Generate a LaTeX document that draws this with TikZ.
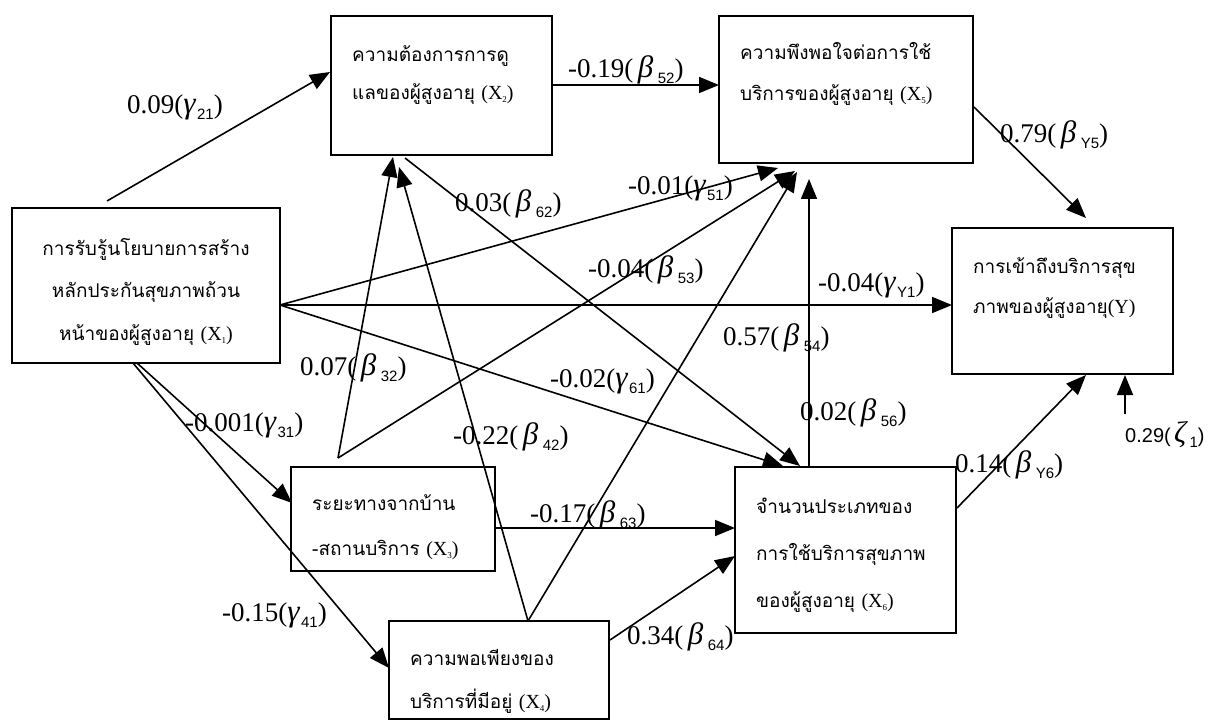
\documentclass[tikz,border=0pt]{standalone}
\usepackage{fontspec}
\setmainfont{Liberation Serif}
\newfontfamily\thaifont[Script=Thai]{Loma}
\newfontfamily\arialf{Liberation Sans}
\usetikzlibrary{arrows.meta}

\newcommand{\sbs}[1]{\raisebox{-6pt}{\arialf\fontsize{15}{15}\selectfont #1}}
\newcommand{\grk}[1]{{\itshape\fontsize{31}{31}\selectfont #1}}
\newcommand{\coefg}[3]{#1(\grk{#2}\kern1.5pt\sbs{#3})}
\newcommand{\coefb}[3]{#1(\,\grk{#2}\,\sbs{#3})}
\newcommand{\xs}[1]{{\rmfamily\fontsize{20}{20}\selectfont (X\raisebox{-3pt}{\fontsize{9}{9}\selectfont #1})}}
\newcommand{\bt}[3]{\thaifont\fontsize{19}{#1}\selectfont\begin{tabular}[t]{@{}#2@{}}#3\end{tabular}}

\begin{document}
\begin{tikzpicture}[x=1pt,y=-1pt,
  box/.style={draw, line width=1.7pt, inner sep=0pt, outer sep=0pt, anchor=north west},
  conn/.style={line width=1.6pt, -{Triangle[length=20pt,width=16pt]}},
  lab/.style={inner sep=0pt, anchor=west, font=\fontsize{27}{27}\selectfont},
  zlab/.style={inner sep=0pt, anchor=west, font=\arialf\fontsize{20}{20}\selectfont},
  txt/.style={inner sep=0pt, anchor=base west}]
\useasboundingbox (0,0) rectangle (1220,722);

% boxes
\node[box, minimum width=268pt, minimum height=155pt] (x1) at (12,208) {};
\node[box, minimum width=221pt, minimum height=139pt] (x2) at (331,16) {};
\node[box, minimum width=254pt, minimum height=147pt] (x5) at (719,16) {};
\node[box, minimum width=221pt, minimum height=146pt] (y) at (952,228) {};
\node[box, minimum width=204pt, minimum height=104pt] (x3) at (291,467) {};
\node[box, minimum width=220pt, minimum height=98pt] (x4) at (389,621) {};
\node[box, minimum width=221pt, minimum height=166pt] (x6) at (735,467) {};

% box texts
\node[txt, anchor=base] (x1t) at (146,255) {\bt{42.5}{c}{การรับรู้นโยบายการสร้าง\\หลักประกันสุขภาพถ้วน\\หน้าของผู้สูงอายุ \xs{1}}};
\node[txt] (x2t) at (352,62) {\bt{38}{l}{ความต้องการการดู\\แลของผู้สูงอายุ \xs{2}}};
\node[txt] (x5t) at (740,60) {\bt{41}{l}{ความพึงพอใจต่อการใช้\\บริการของผู้สูงอายุ \xs{5}}};
\node[txt] (yt) at (973,273) {\bt{40}{l}{การเข้าถึงบริการสุข\\ภาพของผู้สูงอายุ{\rmfamily\fontsize{20}{20}\selectfont(Y)}}};
\node[txt] (x3t) at (312,510) {\bt{45}{l}{ระยะทางจากบ้าน\\-สถานบริการ \xs{3}}};
\node[txt] (x4t) at (410,665) {\bt{43}{l}{ความพอเพียงของ\\บริการที่มีอยู่ \xs{4}}};
\node[txt] (x6t) at (756,513) {\bt{47}{l}{จำนวนประเภทของ\\การใช้บริการสุขภาพ\\ของผู้สูงอายุ \xs{6}}};

% free points
\coordinate (a3) at ([shift={(47,-9)}]x3.north west);
\coordinate (a4) at ([shift={(139,0)}]x4.north west);
\coordinate (o1) at ([shift={(0,97)}]x1.north east);
\coordinate (z) at ([shift={(173,186)}]y.north west);

% connectors
\draw[conn] ([shift={(95,-7)}]x1.north west) -- ([shift={(-1,56)}]x2.north west);
\draw[conn] ([shift={(0,69)}]x2.north east) -- ([shift={(0,69)}]x5.north west);
\draw[conn] ([shift={(1,91)}]x5.north east) -- ([shift={(134,-10)}]y.north west);
\draw[conn] (o1) -- ([shift={(0,77)}]y.north west);
\draw[conn] (o1) -- ([shift={(59,152)}]x5.north west);
\draw[conn] (o1) -- ([shift={(48,-1)}]x6.north west);
\draw[conn] ([shift={(74,142)}]x2.north west) -- ([shift={(65,-1)}]x6.north west);
\draw[conn] (a3) -- ([shift={(62,141)}]x2.north west);
\draw[conn] (a4) -- ([shift={(68,151)}]x2.north west);
\draw[conn] (a3) -- ([shift={(76,155)}]x5.north west);
\draw[conn] (a4) -- ([shift={(78,156)}]x5.north west);
\draw[conn] ([shift={(74,0)}]x6.north west) -- ([shift={(90,163)}]x5.north west);
\draw[conn] ([shift={(125,155)}]x1.north west) -- ([shift={(1,36)}]x3.north west);
\draw[conn] ([shift={(121,155)}]x1.north west) -- ([shift={(0,47)}]x4.north west);
\draw[conn] ([shift={(0,61)}]x3.north east) -- ([shift={(0,61)}]x6.north west);
\draw[conn] ([shift={(1,19)}]x4.north east) -- ([shift={(0,89)}]x6.north west);
\draw[conn] ([shift={(1,41)}]x6.north east) -- ([shift={(134,147)}]y.north west);
\draw[conn] (z) -- ([shift={(173,147)}]y.north west);

% labels
\node[lab] (l21) at (127,107) {\coefg{0.09}{γ}{21}};
\node[lab] (l52) at (568,70) {\coefb{-0.19}{β}{52}};
\node[lab] (lY5) at (1000,135) {\coefb{0.79}{β}{Y5}};
\node[lab] (lY1) at (818,285) {\coefg{-0.04}{γ}{Y1}};
\node[lab] (l51) at (628,188) {\coefg{-0.01}{γ}{51}};
\node[lab] (l62) at (455,204) {\coefb{0.03}{β}{62}};
\node[lab] (l53) at (588,270) {\coefb{-0.04}{β}{53}};
\node[lab] (l54) at (723,338) {\coefb{0.57}{β}{54}};
\node[lab] (l32) at (300,368) {\coefb{0.07}{β}{32}};
\node[lab] (l61) at (550,381) {\coefg{-0.02}{γ}{61}};
\node[lab] (l31) at (185,425) {\coefg{-0.001}{γ}{31}};
\node[lab] (l42) at (453,437) {\coefb{-0.22}{β}{42}};
\node[lab] (l56) at (800,413) {\coefb{0.02}{β}{56}};
\node[lab] (lY6) at (955,465) {\coefb{0.14}{β}{Y6}};
\node[lab] (l63) at (530,515) {\coefb{-0.17}{β}{63}};
\node[lab] (l41) at (222,615) {\coefg{-0.15}{γ}{41}};
\node[lab] (l64) at (627,637) {\coefb{0.34}{β}{64}};
\node[zlab] (lz) at (1125,435) {0.29(\,{\rmfamily\itshape\fontsize{30}{30}\selectfont ζ}\,\raisebox{-5pt}{\fontsize{15}{15}\selectfont 1})};
\end{tikzpicture}
\end{document}
